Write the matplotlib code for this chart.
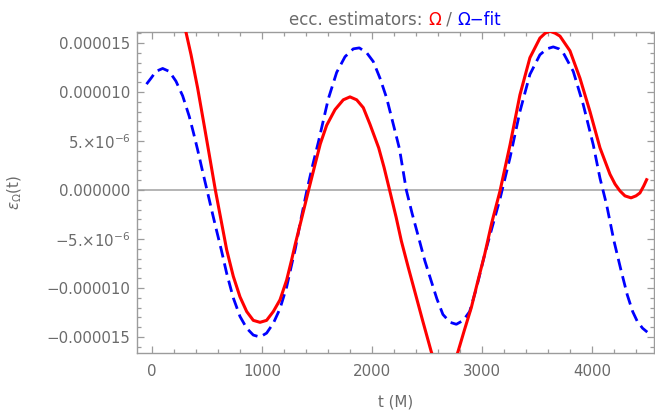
import numpy as np
import matplotlib
matplotlib.use('Agg')
import matplotlib.pyplot as plt
from matplotlib.ticker import MultipleLocator, FixedLocator, FixedFormatter

# readings, values in units of 1e-6
t_omega = [-50, 100, 200, 303, 355, 415, 476, 530, 576, 620, 679, 739, 800, 861, 921, 982,
           1042, 1103, 1164, 1224, 1270, 1303, 1365, 1424, 1480, 1530, 1588, 1664, 1739,
           1800, 1861, 1921, 1982, 2061, 2110, 2160, 2220, 2267, 2330, 2388, 2460, 2539,
           2600, 2660, 2720, 2782, 2840, 2903, 2960, 3024, 3090, 3164, 3255, 3345, 3436,
           3527, 3575, 3618, 3665, 3709, 3800, 3891, 3982, 4073, 4164, 4210, 4255, 4300,
           4355, 4400, 4436, 4470, 4497]
e_omega = [28.0, 25.0, 21.5, 16.4, 13.8, 10.4, 6.5, 3.0, 0.0, -2.6, -6.1, -8.8, -10.9, -12.4, -13.3, -13.5,
           -13.3, -12.4, -11.2, -9.2, -7.1, -5.5, -2.7, 0.0, 2.5, 4.7, 6.6, 8.2, 9.2,
           9.5, 9.2, 8.4, 6.7, 4.3, 2.3, 0.0, -2.8, -5.2, -7.9, -10.3, -13.3, -16.5,
           -18.5, -19.2, -18.5, -16.5, -14.3, -12.0, -9.4, -6.6, -3.3, -0.1, 4.6, 9.7, 13.5,
           15.5, 16.0, 16.2, 16.0, 15.7, 14.2, 11.4, 8.0, 4.3, 1.6, 0.6, -0.1, -0.6,
           -0.8, -0.6, -0.3, 0.4, 1.05]

t_fit = [-50, -9, 36, 97, 157, 218, 279, 339, 378, 415, 460, 500, 550, 582, 630, 679, 739,
         800, 861, 921, 982, 1042, 1103, 1164, 1224, 1270, 1303, 1350, 1409, 1460, 1515,
         1560, 1603, 1679, 1755, 1830, 1885, 1952, 2012, 2073, 2133, 2194, 2250, 2312,
         2365, 2418, 2480, 2539, 2590, 2645, 2710, 2767, 2830, 2888, 2950, 3024, 3100,
         3164, 3255, 3345, 3436, 3527, 3590, 3648, 3700, 3739, 3830, 3921, 4012, 4073,
         4133, 4200, 4260, 4321, 4370, 4412, 4460, 4503]
e_fit = [10.8, 11.4, 12.1, 12.4, 12.1, 11.1, 9.6, 7.5, 5.8, 4.1, 1.9, 0.0, -2.4, -3.9, -6.1, -8.5, -11.0,
         -12.9, -14.1, -14.8, -15.0, -14.6, -13.6, -12.1, -9.9, -7.6, -6.0, -3.2, 0.0, 2.5, 5.0,
         7.2, 9.3, 12.0, 13.6, 14.4, 14.5, 14.0, 13.1, 11.4, 9.4, 6.7, 4.2, 0.0,
         -2.4, -4.6, -7.2, -9.3, -11.1, -12.7, -13.5, -13.7, -13.3, -12.4, -10.0, -6.6, -3.5,
         -0.9, 3.3, 8.0, 11.8, 13.8, 14.4, 14.6, 14.4, 14.0, 12.1, 8.7, 4.6, 1.2,
         -1.5, -5.2, -8.0, -10.7, -12.4, -13.4, -14.1, -14.5]

ytick_vals = [-15, -10, -5, 0, 5, 10, 15]
ytick_txt = ['\u22120.000015', '\u22120.000010', '\u22125.\u00d710$^{\\mathregular{\u22126}}$', '0.000000',
             '5.\u00d710$^{\\mathregular{\u22126}}$', '0.000010', '0.000015']
xtick_vals = [0, 1000, 2000, 3000, 4000]

frame_c = '#9c9c9c'
text_c = '#6b6b6b'

plt.rcParams['font.family'] = ['DejaVu Sans']
fig = plt.figure(figsize=(6.55, 4.13), dpi=100)
ax = fig.add_axes([136.7/655, 1-353/413, (654-136.7)/655, (353-32)/413])

ax.axhline(0, color='#a0a0a0', lw=1.1, zorder=1)
ax.plot(t_omega, np.array(e_omega)*1e-6, color='#ff0000', lw=2.2, zorder=3,
        solid_joinstyle='round')
ax.plot(t_fit, np.array(e_fit)*1e-6, color='#0000ff', lw=2.0, ls=(0, (4.2, 2.2)), zorder=2,
        dash_joinstyle='round')

ax.set_xlim(-139, 4564)
ax.set_ylim(-16.63e-6, 16.12e-6)

ax.xaxis.set_major_locator(FixedLocator(xtick_vals))
ax.xaxis.set_minor_locator(MultipleLocator(200))
ax.yaxis.set_major_locator(FixedLocator([v*1e-6 for v in ytick_vals]))
ax.yaxis.set_major_formatter(FixedFormatter(ytick_txt))
ax.yaxis.set_minor_locator(MultipleLocator(1e-6))

ax.tick_params(which='both', direction='in', top=True, right=True, color=frame_c,
               labelcolor=text_c, labelsize=10.8, width=0.9)
ax.tick_params(which='major', length=5)
ax.tick_params(which='minor', length=2.8)
ax.tick_params(axis='x', pad=8)
ax.tick_params(axis='y', pad=4.5)
for s in ax.spines.values():
    s.set_color(frame_c)
    s.set_linewidth(1.0)

ax.set_xlabel('t (M)', color=text_c, fontsize=10.8)
ax.xaxis.set_label_coords(0.5, -0.13)
ax.set_ylabel('$\\varepsilon_{\\Omega}$(t)', color=text_c, fontsize=10.8)
ax.yaxis.set_label_coords(-0.218, 0.5)

# coloured title, pieces laid side by side
fig.canvas.draw()
r = fig.canvas.get_renderer()
parts = [('ecc. estimators: ', text_c), ('\u03a9', '#ff0000'), (' / ', text_c), ('\u03a9\u2212fit', '#0000ff')]
yb = 1 - 25/413
texts = [fig.text(0, yb, s, color=c, fontsize=12, va='baseline', ha='left') for s, c in parts]
widths = [tx.get_window_extent(r).width for tx in texts]
x0 = 395 - sum(widths)/2
for tx, w in zip(texts, widths):
    tx.set_x(x0/655)
    x0 += w

fig.savefig('out.png', dpi=100)
